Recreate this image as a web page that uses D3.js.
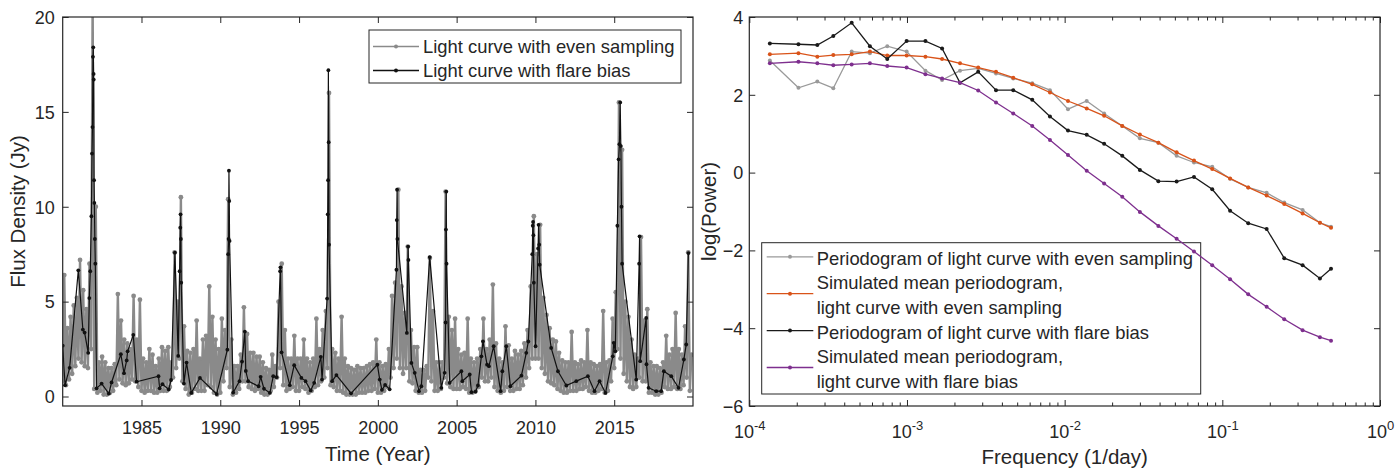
<!DOCTYPE html>
<html><head><meta charset="utf-8">
<script src="https://cdn.jsdelivr.net/npm/d3@7"></script>
<style>
body{margin:0;background:#fff}
text{font-family:"Liberation Sans",Arial,Helvetica,sans-serif;fill:#262626}
</style>
</head><body><svg id="c" width="1399" height="468"></svg>
<script>
// ---------------- LEFT PANEL DATA ----------------
// Evenly sampled light curve, read as low/high envelope per 0.2-year bin starting 1980.0
const grayStart = 1980, grayStep = 0.2;
const grayHigh = [
 6.4,3.6,4.2,4.8,5.2, 7.2,5.6,4.6,7.0,21, 10,1.8,2.1,1.8,1.5, 1.5,1.7,5.4,4.0,3.0,
 2.8,2.5,5.3,3.0,5.1, 2.0,1.8,2.5,2.2,1.6, 2.0,2.6,2.4,2.6,1.8, 7.6,5.0,10.5,3.7,2.4,
 2.3,2.5,4.0,2.0,3.0, 3.2,5.8,4.2,3.0,2.5, 4.1,3.5,10.4,3.0,1.6, 1.6,2.2,4.7,3.3,2.3,
 2.3,2.1,2.1,1.8,1.5, 1.4,2.2,1.6,5.0,7.0, 3.5,2.0,2.0,3.2,2.0, 2.0,3.0,2.0,1.8,2.0,
 4.1,2.5,3.5,4.5,16.0, 2.5,2.3,2.0,4.2,2.0, 1.6,1.5,1.4,1.6,1.5, 1.5,1.6,1.7,1.8,3.0,
 1.8,1.6,1.7,2.5,5.3, 6.0,10.9,5.8,4.4,7.9, 3.5,2.6,2.6,1.4,1.4, 1.6,7.3,4.5,1.8,1.8,
 1.8,10.8,4.2,3.5,4.1, 2.5,2.2,2.3,4.1,2.0, 1.8,2.0,2.5,4.1,2.5, 3.0,5.9,2.8,2.0,1.8,
 3.7,2.7,2.0,2.4,2.2, 2.4,2.8,3.5,5.8,9.5, 7.5,9.05,5.2,4.3,3.6, 3.0,2.9,2.3,1.9,1.8,
 1.8,3.4,1.8,1.7,1.9, 1.8,3.5,1.8,1.7,1.6, 1.7,4.5,1.8,1.9,4.1, 5.5,15.5,13.0,5.0,4.2,
 3.0,2.2,2.0,8.4,4.0, 4.6,1.8,1.6,1.6,1.5, 1.8,3.2,2.2,2.5,4.4, 2.5,2.2,3.7,7.6,2.2
];
const grayLow = [
 0.8,0.6,0.9,1.2,1.6, 2.0,1.8,1.6,1.5,2.5, 0.4,0.2,0.3,0.1,0.1, 0.2,0.3,0.6,0.9,0.7,
 0.6,0.7,0.9,0.8,0.5, 0.3,0.2,0.3,0.3,0.2, 0.2,0.3,0.3,0.3,0.5, 1.0,1.5,2.0,0.8,0.4,
 0.1,0.2,0.4,0.3,0.3, 0.3,0.6,0.5,0.2,0.1, 0.2,0.8,1.5,0.5,0.1, 0.2,0.4,0.8,0.8,0.5,
 0.4,0.3,0.4,0.2,0.1, 0.1,0.3,0.5,1.0,1.5, 0.6,0.3,0.4,0.5,0.3, 0.3,0.5,0.4,0.2,0.3,
 0.5,0.6,0.8,1.0,1.5, 0.6,0.5,0.3,0.3,0.2, 0.1,0.1,0.1,0.1,0.2, 0.2,0.2,0.3,0.3,0.4,
 0.2,0.2,0.3,0.5,1.0, 1.5,2.0,1.5,1.2,1.5, 0.8,0.7,0.3,0.2,0.2, 0.3,1.0,0.8,0.3,0.3,
 0.4,1.0,0.7,0.5,0.4, 0.4,0.4,0.5,0.4,0.2, 0.2,0.3,0.5,1.0,0.8, 0.8,1.0,0.5,0.3,0.2,
 0.3,0.5,0.3,0.3,0.4, 0.4,0.6,1.0,1.5,2.0, 2.0,2.0,1.5,1.2,0.8, 0.7,0.6,0.4,0.3,0.2,
 0.2,0.3,0.3,0.3,0.4, 0.4,0.5,0.3,0.2,0.2, 0.3,0.4,0.2,0.3,0.8, 1.5,2.5,2.0,1.2,0.8,
 0.5,0.4,0.5,1.0,0.8, 0.8,0.2,0.2,0.1,0.1, 0.2,0.5,0.4,0.4,0.5, 0.4,0.4,0.6,1.0,0.3
];
// Light curve with flare bias (irregular sampling): times (year) and flux (Jy)
const flareTime = [
 1980.00,1980.15,1980.44,1980.99,1981.28,1981.39,1981.62,1981.69,1981.75,1981.82,1981.86,1981.89,1981.92,1981.94,1981.96,1981.97,1981.99,1982.01,1982.04,1982.07,
 1982.15,1982.47,1982.93,1983.10,1983.69,1983.89,1984.06,1984.12,1984.48,1984.69,1986.08,1986.15,1986.33,1986.73,1986.88,1987.12,1987.33,1987.42,1987.46,1987.48,
 1987.50,1987.52,1987.69,1987.86,1988.16,1988.71,1989.77,1990.45,1990.50,1990.53,1990.55,1990.57,1990.59,1990.82,1991.22,1991.38,1991.56,1991.62,1991.77,1992.43,
 1992.56,1992.77,1993.15,1993.36,1993.57,1993.80,1993.82,1993.89,1994.41,1994.69,1995.15,1995.41,1995.74,1995.96,1996.38,1996.46,1996.78,1996.82,1996.84,1996.86,
 1996.88,1996.90,1997.10,1997.37,1998.30,1999.97,2000.12,2000.26,2000.46,2000.75,2001.18,2001.20,2001.22,2001.24,2001.84,2001.92,2001.94,2002.13,2002.34,2002.61,
 2002.76,2003.29,2004.03,2004.24,2004.30,2004.32,2004.34,2004.36,2004.56,2005.30,2005.36,2005.83,2005.94,2006.20,2006.35,2006.57,2006.67,2006.93,2007.05,2007.35,
 2007.79,2007.90,2008.15,2008.41,2009.11,2009.42,2009.55,2009.80,2009.83,2009.85,2009.87,2009.90,2010.01,2010.17,2010.20,2010.24,2010.27,2011.00,2011.43,2011.96,
 2012.59,2013.33,2013.75,2014.07,2014.45,2014.91,2014.97,2015.07,2015.20,2015.28,2015.33,2015.38,2015.42,2015.46,2015.50,2016.40,2016.58,2016.61,2016.65,2017.03,
 2017.05,2017.18,2017.67,2017.98,2018.15,2018.62,2019.08,2019.42,2019.57,2019.71
];
const flareFlux = [
 2.68,0.60,1.51,6.65,3.53,3.37,2.30,5.19,6.60,9.5,12.8,14.2,17.9,18.4,17.0,16.7,11.4,10.2,8.3,7.0,
 0.43,0.68,0.15,0.74,2.23,1.23,1.90,2.38,3.25,0.78,1.07,0.43,0.65,0.37,0.87,7.58,2.14,6.6,8.9,9.6,
 8.3,6.0,0.68,1.79,0.19,0.98,0.13,2.47,7.5,8.3,11.9,10.3,8.2,0.21,0.81,1.84,3.42,1.35,0.81,0.54,
 1.04,0.41,0.19,1.07,1.02,6.6,6.81,2.33,0.60,1.65,0.98,0.81,0.32,0.72,2.09,0.89,5.16,9.6,11.4,17.2,
 13.4,8.0,0.81,1.13,0.17,1.68,0.89,0.35,0.61,0.38,6.68,9.3,10.9,8.3,3.35,7.9,7.2,1.77,1.25,0.28,
 0.54,7.35,0.46,1.25,3.9,8.8,10.8,7.0,0.72,1.33,0.81,1.16,0.23,0.25,0.58,2.12,2.91,1.68,1.60,2.65,
 0.28,1.33,2.65,0.54,1.10,2.30,2.9,7.5,9.0,9.2,8.5,6.0,2.65,7.8,9.05,8.0,6.95,2.56,1.33,0.58,
 0.81,1.07,0.28,0.81,0.19,2.12,2.83,2.38,9.0,12.5,13.3,15.5,13.2,10.0,7.0,0.89,7.0,8.44,1.86,4.14,
 1.70,0.46,0.28,0.28,1.33,1.07,0.46,1.95,2.74,7.56
];
const yearTicks = [1985,1990,1995,2000,2005,2010,2015];
const fluxTicks = [0,5,10,15,20];
const leftLegend = ["Light curve with even sampling","Light curve with flare bias"];

// ---------------- RIGHT PANEL DATA ----------------
const freq = [1.35e-4,2.05e-4,2.70e-4,3.41e-4,4.46e-4,5.82e-4,7.50e-4,9.95e-4,1.31e-3,1.67e-3,2.17e-3,2.83e-3,3.67e-3,4.72e-3,6.23e-3,8.07e-3,
 1.05e-2,1.38e-2,1.78e-2,2.32e-2,3.00e-2,3.93e-2,5.13e-2,6.61e-2,8.63e-2,0.112,0.146,0.191,0.247,0.323,0.416,0.489];
const pgEven = [2.88,2.18,2.34,2.17,3.11,3.07,3.25,3.11,2.62,2.38,2.62,2.68,2.55,2.42,2.30,2.12,1.63,1.84,1.52,1.20,0.88,0.77,0.43,0.26,0.15,-0.16,-0.38,-0.52,-0.77,-0.96,-1.29,-1.39];
const simEven = [3.04,3.07,2.98,3.02,3.04,3.11,3.01,3.01,2.98,2.92,2.81,2.70,2.59,2.44,2.27,2.06,1.84,1.65,1.46,1.20,0.98,0.77,0.52,0.31,0.09,-0.15,-0.38,-0.59,-0.81,-1.05,-1.29,-1.42];
const pgFlare = [3.32,3.30,3.28,3.51,3.85,3.25,2.92,3.38,3.38,3.19,2.31,2.59,2.12,2.12,1.87,1.44,1.08,0.97,0.74,0.43,0.07,-0.22,-0.23,-0.11,-0.43,-0.98,-1.30,-1.45,-2.20,-2.38,-2.72,-2.47];
const simFlare = [2.81,2.85,2.81,2.76,2.78,2.81,2.74,2.70,2.53,2.42,2.31,2.11,1.80,1.52,1.20,0.84,0.45,0.05,-0.28,-0.62,-1.01,-1.37,-1.70,-2.03,-2.38,-2.74,-3.13,-3.45,-3.77,-4.05,-4.23,-4.32];
const freqMajor = [1e-4,1e-3,1e-2,1e-1,1];
const powerTicks = [-6,-4,-2,0,2,4];
const rightSeries = [
 {name:["Periodogram of light curve with even sampling"], values:pgEven, color:"#9a9a9a"},
 {name:["Simulated mean periodogram,","light curve with even sampling"], values:simEven, color:"#D95319"},
 {name:["Periodogram of light curve with flare bias"], values:pgFlare, color:"#1a1a1a"},
 {name:["Simulated mean periodogram,","light curve with flare bias"], values:simFlare, color:"#7E2F8E"}
];

// ---------------- DRAWING ----------------
const svg = d3.select('#c');
const AX = '#262626', TF = 18;
const L = {x0:62.7, x1:693, y0:17, y1:406};
const R = {x0:749.3, x1:1380, y0:17, y1:406};

const xL = d3.scaleLinear().domain([1980,2020]).range([L.x0,L.x1]);
const yL = d3.scaleLinear().domain([-0.5,20]).range([L.y1,L.y0]);
const xR = d3.scaleLog().domain([1e-4,1]).range([R.x0,R.x1]);
const yR = d3.scaleLinear().domain([-6,4]).range([R.y1,R.y0]);

const defs = svg.append('defs');
defs.append('clipPath').attr('id','clipL').append('rect')
  .attr('x',L.x0).attr('y',L.y0).attr('width',L.x1-L.x0).attr('height',L.y1-L.y0);

function styleAxis(g){
  g.attr('font-size',TF).attr('font-family','"Liberation Sans",Arial,Helvetica,sans-serif').attr('color',AX);
  g.select('.domain').remove();
  g.selectAll('.tick line').attr('stroke-width',1);
  return g;
}

// ---- left panel ----
const gray = [];
grayLow.forEach((lo,i)=>{
  const t = grayStart + i*grayStep;
  gray.push([t, lo]);
  gray.push([t + grayStep/2, grayHigh[i]]);
});
const flare = flareTime.map((t,i)=>[t, flareFlux[i]]);
const lineL = d3.line().x(d=>xL(d[0])).y(d=>yL(d[1]));
const pL = svg.append('g').attr('clip-path','url(#clipL)');
pL.append('path').attr('d',lineL(gray)).attr('fill','none').attr('stroke','#8a8a8a').attr('stroke-width',2.4).attr('stroke-linejoin','round');
pL.append('g').selectAll('circle').data(gray).join('circle')
  .attr('cx',d=>xL(d[0])).attr('cy',d=>yL(d[1])).attr('r',2.4).attr('fill','#8a8a8a');
pL.append('path').attr('d',lineL(flare)).attr('fill','none').attr('stroke','#111').attr('stroke-width',1.2);
pL.append('g').selectAll('circle').data(flare).join('circle')
  .attr('cx',d=>xL(d[0])).attr('cy',d=>yL(d[1])).attr('r',1.9).attr('fill','#111');

// axes left
styleAxis(svg.append('g').attr('transform',`translate(0,${L.y1})`)
  .call(d3.axisBottom(xL).tickValues(yearTicks).tickSizeInner(-6).tickSizeOuter(0).tickFormat(d3.format('d'))))
  .selectAll('text').attr('y',28).attr('dy',0);
styleAxis(svg.append('g').attr('transform',`translate(0,${L.y0})`)
  .call(d3.axisTop(xL).tickValues(yearTicks).tickSizeInner(-6).tickSizeOuter(0).tickFormat('')));
styleAxis(svg.append('g').attr('transform',`translate(${L.x0},0)`)
  .call(d3.axisLeft(yL).tickValues(fluxTicks).tickSizeInner(-6).tickSizeOuter(0).tickPadding(8)))
  .selectAll('text').attr('dy','0.35em');
styleAxis(svg.append('g').attr('transform',`translate(${L.x1},0)`)
  .call(d3.axisRight(yL).tickValues(fluxTicks).tickSizeInner(-6).tickSizeOuter(0).tickFormat('')));
svg.append('rect').attr('x',L.x0).attr('y',L.y0).attr('width',L.x1-L.x0).attr('height',L.y1-L.y0)
  .attr('fill','none').attr('stroke',AX).attr('stroke-width',1.2);
svg.append('text').attr('x',(L.x0+L.x1)/2).attr('y',461).attr('text-anchor','middle').attr('font-size',20.5).text('Time (Year)');
svg.append('text').attr('transform',`translate(25,${(L.y0+L.y1)/2}) rotate(-90)`).attr('text-anchor','middle').attr('font-size',20.5).text('Flux Density (Jy)');

// legend left
const lgL = svg.append('g');
lgL.append('rect').attr('x',369).attr('y',30).attr('width',312).attr('height',53).attr('fill','#fff').attr('stroke',AX).attr('stroke-width',1);
[['#8a8a8a',46.5],['#111',70.5]].forEach(([c,y],i)=>{
  lgL.append('line').attr('x1',373).attr('x2',419).attr('y1',y).attr('y2',y).attr('stroke',c).attr('stroke-width',1.3);
  lgL.append('circle').attr('cx',396).attr('cy',y).attr('r',2).attr('fill',c);
  lgL.append('text').attr('x',423).attr('y',y+6.5).attr('font-size',18.4).text(leftLegend[i]);
});

// ---- right panel ----
const ax = svg.append('g');
const minors = [];
for (let e=-4;e<0;e++) for (let k=2;k<=9;k++) minors.push(k*Math.pow(10,e));
const bx = styleAxis(ax.append('g').attr('transform',`translate(0,${R.y1})`)
  .call(d3.axisBottom(xR).tickValues(freqMajor).tickSizeInner(-6).tickSizeOuter(0).tickFormat('')));
bx.selectAll('text').attr('y',32).attr('dy',0).each(function(d){
  const t = d3.select(this);
  t.append('tspan').text('10');
  t.append('tspan').attr('dy',-8).attr('font-size',13).text(Math.round(Math.log10(d)));
});
styleAxis(ax.append('g').attr('transform',`translate(0,${R.y1})`)
  .call(d3.axisBottom(xR).tickValues(minors).tickSizeInner(-3.5).tickSizeOuter(0).tickFormat('')));
styleAxis(ax.append('g').attr('transform',`translate(0,${R.y0})`)
  .call(d3.axisTop(xR).tickValues(freqMajor).tickSizeInner(-6).tickSizeOuter(0).tickFormat('')));
styleAxis(ax.append('g').attr('transform',`translate(0,${R.y0})`)
  .call(d3.axisTop(xR).tickValues(minors).tickSizeInner(-3.5).tickSizeOuter(0).tickFormat('')));
styleAxis(ax.append('g').attr('transform',`translate(${R.x0},0)`)
  .call(d3.axisLeft(yR).tickValues(powerTicks).tickSizeInner(-6).tickSizeOuter(0).tickPadding(6)))
  .selectAll('text').attr('dy','0.35em');
styleAxis(ax.append('g').attr('transform',`translate(${R.x1},0)`)
  .call(d3.axisRight(yR).tickValues(powerTicks).tickSizeInner(-6).tickSizeOuter(0).tickFormat('')));
svg.append('rect').attr('x',R.x0).attr('y',R.y0).attr('width',R.x1-R.x0).attr('height',R.y1-R.y0)
  .attr('fill','none').attr('stroke',AX).attr('stroke-width',1.2);
svg.append('text').attr('x',(R.x0+R.x1)/2).attr('y',464).attr('text-anchor','middle').attr('font-size',20.5).text('Frequency (1/day)');
svg.append('text').attr('transform',`translate(716,${(R.y0+R.y1)/2}) rotate(-90)`).attr('text-anchor','middle').attr('font-size',20.5).text('log(Power)');

// legend right (box drawn below the series, as in the original)
const lgR = svg.append('g');
lgR.append('rect').attr('x',761.7).attr('y',242.7).attr('width',439).attr('height',151.3).attr('fill','#fff').attr('stroke',AX).attr('stroke-width',1);
const rowTop = 258.3, rowH = 24.6;
let row = 0;
rightSeries.forEach(s=>{
  const n = s.name.length;
  const ly = rowTop + (row + (n-1)/2)*rowH - 1.5;
  lgR.append('line').attr('x1',766.7).attr('x2',813.3).attr('y1',ly).attr('y2',ly).attr('stroke',s.color).attr('stroke-width',1.3);
  lgR.append('circle').attr('cx',790).attr('cy',ly).attr('r',2).attr('fill',s.color);
  s.name.forEach((nm,j)=>{
    lgR.append('text').attr('x',816.7).attr('y',rowTop + (row+j)*rowH + 6.5).attr('font-size',18.4).text(nm);
  });
  row += n;
});

const lineR = d3.line().x((d,i)=>xR(freq[i])).y(d=>yR(d));
rightSeries.forEach(s=>{
  const g = svg.append('g');
  g.append('path').attr('d',lineR(s.values)).attr('fill','none').attr('stroke',s.color).attr('stroke-width',1.3);
  g.selectAll('circle').data(s.values).join('circle')
    .attr('cx',(d,i)=>xR(freq[i])).attr('cy',d=>yR(d)).attr('r',2).attr('fill',s.color);
});
</script></body></html>
